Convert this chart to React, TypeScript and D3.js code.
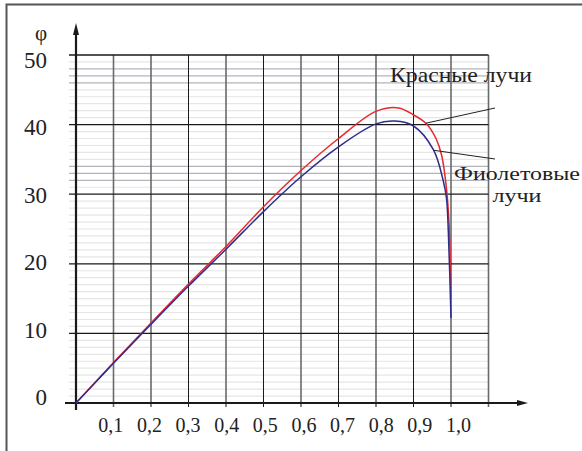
import { useEffect, useRef } from 'react'
import * as d3 from 'd3'

const RED_X = [0, 0.1, 0.2, 0.3, 0.4, 0.5, 0.6, 0.7, 0.8, 0.86, 0.9, 0.935, 0.96, 0.975, 0.988, 0.995, 1.0]
const RED_PHI = [0, 5.8, 11.5, 17.1, 22.5, 28.2, 33.4, 38.0, 41.9, 42.4, 41.4, 40.1, 38.0, 35.6, 30.8, 25.5, 15]
const VIOLET_X = [0, 0.1, 0.2, 0.3, 0.4, 0.5, 0.6, 0.7, 0.8, 0.85, 0.9, 0.953, 0.979, 0.988, 0.993, 1.0]
const VIOLET_PHI = [0, 5.7, 11.3, 16.8, 22.1, 27.5, 32.5, 36.8, 40.1, 40.5, 39.8, 36.4, 32.0, 29.4, 24.4, 12.2]
const X_TICKS = [0.1, 0.2, 0.3, 0.4, 0.5, 0.6, 0.7, 0.8, 0.9, 1.0, 1.1]
const X_LABELS = ['0,1', '0,2', '0,3', '0,4', '0,5', '0,6', '0,7', '0,8', '0,9', '1,0']
const Y_TICKS = [0, 10, 20, 30, 40, 50]
const MINOR_DARK = [32, 33, 34, 46, 47, 48]

export default function App() {
  const ref = useRef<SVGSVGElement>(null)
  useEffect(() => {
    const svg = d3.select(ref.current)
    svg.selectAll('*').remove()
    const x = d3.scaleLinear().domain([0, 1]).range([76, 451])
    const y = d3.scaleLinear().domain([0, 50]).range([403, 55])
    const xLab = d3.scaleLinear().domain([0.1, 1.0]).range([110.8, 458.5])
    const yLab = d3.scaleLinear().domain([0, 50]).range([405, 68])
    const font = 'Liberation Serif, DejaVu Serif, serif'

    // frame
    svg.append('path').attr('d', 'M6.5,460 V4.5 H600').attr('fill', 'none').attr('stroke', '#555').attr('stroke-width', 2)

    const g = svg.append('g')
    const minor = d3.range(1, 50).filter(v => v % 10 !== 0)
    g.selectAll('.minor').data(minor).join('line')
      .attr('x1', 69).attr('x2', x(1.1)).attr('y1', d => y(d)).attr('y2', d => y(d))
      .attr('stroke', d => MINOR_DARK.includes(d) ? '#b4b4bc' : '#e6e6e6').attr('stroke-width', 1.2)
    g.selectAll('.vgrid').data(X_TICKS).join('line')
      .attr('x1', d => x(d)).attr('x2', d => x(d)).attr('y1', y(50)).attr('y2', y(0) + 4)
      .attr('stroke', (d, i) => (i % 2 === 0 && i > 0 && i < 9) ? '#1a1a1a' : '#6a6a6a')
      .attr('stroke-width', (d, i) => (i % 2 === 0 && i > 0 && i < 9) ? 1 : 1.6)
    g.selectAll('.hgrid').data(Y_TICKS.filter(v => v > 0)).join('line')
      .attr('x1', 69).attr('x2', x(1.1)).attr('y1', d => y(d)).attr('y2', d => y(d))
      .attr('stroke', '#1a1a1a').attr('stroke-width', 1.3)

    // axes
    svg.append('line').attr('x1', 65).attr('x2', 522).attr('y1', y(0)).attr('y2', y(0)).attr('stroke', '#1a1a1a').attr('stroke-width', 2.2)
    svg.append('path').attr('d', `M528,${y(0)} L517,${y(0) - 3} L517,${y(0) + 3} Z`).attr('fill', '#1a1a1a')
    svg.append('line').attr('x1', x(0)).attr('x2', x(0)).attr('y1', 410).attr('y2', 30).attr('stroke', '#1a1a1a').attr('stroke-width', 2.2)
    svg.append('path').attr('d', `M${x(0)},23 L${x(0) - 3},35 L${x(0) + 3},35 Z`).attr('fill', '#1a1a1a')

    // curves
    const line = d3.line<[number, number]>().x(d => x(d[0])).y(d => y(d[1])).curve(d3.curveCatmullRom.alpha(0.5))
    svg.append('path').attr('d', line(RED_X.map((v, i) => [v, RED_PHI[i]]))).attr('fill', 'none').attr('stroke', '#e8282e').attr('stroke-width', 1.5)
    svg.append('path').attr('d', line(VIOLET_X.map((v, i) => [v, VIOLET_PHI[i]]))).attr('fill', 'none').attr('stroke', '#2c2d8c').attr('stroke-width', 1.5)

    // labels
    svg.selectAll('.xl').data(X_LABELS).join('text')
      .attr('x', (d, i) => xLab(X_TICKS[i])).attr('y', 432).attr('text-anchor', 'middle')
      .attr('font-family', font).attr('font-size', 20).attr('fill', '#222').text(d => d)
    svg.selectAll('.yl').data(Y_TICKS).join('text')
      .attr('x', 47).attr('y', d => yLab(d)).attr('text-anchor', 'end')
      .attr('font-family', font).attr('font-size', 23).attr('fill', '#222').text(d => d)
    svg.append('text').attr('x', 47).attr('y', 40).attr('text-anchor', 'end')
      .attr('font-family', font).attr('font-size', 21).attr('fill', '#222').text('φ')

    // annotations
    svg.append('line').attr('x1', x(0.933)).attr('y1', y(40.2)).attr('x2', 495).attr('y2', 108).attr('stroke', '#222').attr('stroke-width', 1)
    svg.append('line').attr('x1', x(0.955)).attr('y1', y(36.3)).attr('x2', 495).attr('y2', 159).attr('stroke', '#222').attr('stroke-width', 1)
    const note = (t: string, cx: number, by: number, w: number, fs: number) =>
      svg.append('text').attr('x', cx).attr('y', by).attr('text-anchor', 'middle')
        .attr('textLength', w).attr('lengthAdjust', 'spacingAndGlyphs')
        .attr('font-family', font).attr('font-size', fs).attr('fill', '#222').text(t)
    note('Красные лучи', 461, 82, 142, 22)
    note('Фиолетовые', 517, 180, 126, 19)
    note('лучи', 517, 202, 49, 19)
  }, [])
  return <svg ref={ref} width={582} height={451} style={{ position: 'absolute', left: 0, top: 0, background: '#fff' }} />
}
